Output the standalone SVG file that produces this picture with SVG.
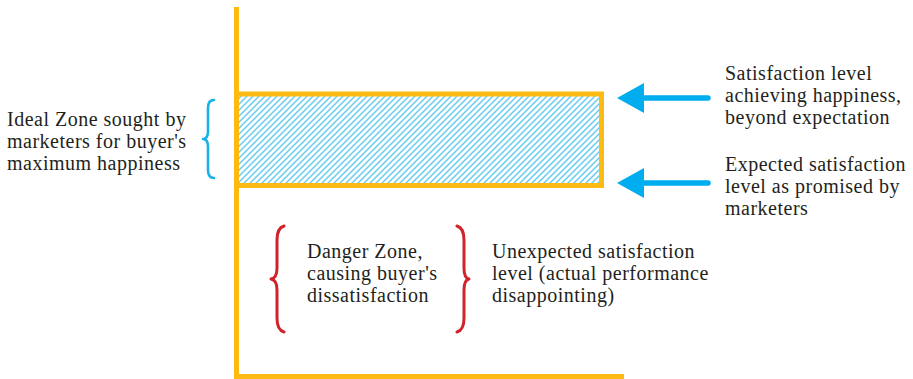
<svg xmlns="http://www.w3.org/2000/svg" width="913" height="379" viewBox="0 0 913 379">
<style>
.axis{fill:none;stroke:#FDBA12;stroke-width:5}
text{font-family:'Liberation Serif','Times New Roman','DejaVu Serif',serif;font-size:20px;fill:#231f20;letter-spacing:0.5px}
.cb{fill:none;stroke:#1AB1E8;stroke-width:2.6;stroke-linecap:round;stroke-linejoin:round}
.rb{fill:none;stroke:#D0242B;stroke-width:3;stroke-linecap:round;stroke-linejoin:round}
.shaft{stroke:#00AEEF;stroke-width:5.5;stroke-linecap:round}
.head{fill:#00AEEF}
</style>
<defs>
<pattern id="hatch" patternUnits="userSpaceOnUse" width="4.24" height="10" patternTransform="rotate(45)">
<line x1="1" y1="0" x2="1" y2="10" stroke="#1AB1E8" stroke-width="1"/>
</pattern>
</defs>
<g id="axes">
<line class="axis" x1="236.5" y1="7" x2="236.5" y2="379"/>
<line class="axis" x1="234" y1="376.5" x2="624" y2="376.5"/>
</g>
<g id="ideal-zone">
<rect x="236.5" y="94" width="365" height="91.5" fill="url(#hatch)" stroke="#FDBA12" stroke-width="5"/>
</g>
<g id="ideal-label">
<path class="cb" d="M214,100 Q208,100 208,108 L208,131 Q208,139 203,139 Q208,139 208,147 L208,170 Q208,178 214,178"/>
<text font-family="Liberation Serif, serif"><tspan x="7" y="126">Ideal Zone sought by</tspan><tspan x="7" y="148">marketers for buyer's</tspan><tspan x="7" y="170">maximum happiness</tspan></text>
</g>
<g id="connectors">
<line class="shaft" x1="708" y1="98" x2="640" y2="98"/>
<polygon class="head" points="617,98 644,83 644,113"/>
<line class="shaft" x1="708" y1="183" x2="640" y2="183"/>
<polygon class="head" points="617,183 644,168 644,198"/>
</g>
<g id="beyond-label">
<text><tspan x="725" y="80">Satisfaction level</tspan><tspan x="725" y="102">achieving happiness,</tspan><tspan x="725" y="124">beyond expectation</tspan></text>
</g>
<g id="expected-label">
<text><tspan x="725" y="171">Expected satisfaction</tspan><tspan x="725" y="193">level as promised by</tspan><tspan x="725" y="215">marketers</tspan></text>
</g>
<g id="danger-zone">
<path class="rb" d="M284,226 Q277,228 277,240 L277,268 Q277,278 271,279 Q277,280 277,290 L277,318 Q277,330 284,332"/>
<text><tspan x="307" y="258">Danger Zone,</tspan><tspan x="307" y="280">causing buyer's</tspan><tspan x="307" y="302">dissatisfaction</tspan></text>
<path class="rb" d="M457,226 Q464,228 464,240 L464,268 Q464,278 469,279 Q464,280 464,290 L464,318 Q464,330 457,332"/>
</g>
<g id="unexpected-label">
<text><tspan x="492" y="258">Unexpected satisfaction</tspan><tspan x="492" y="280">level (actual performance</tspan><tspan x="492" y="302">disappointing)</tspan></text>
</g>
</svg>
